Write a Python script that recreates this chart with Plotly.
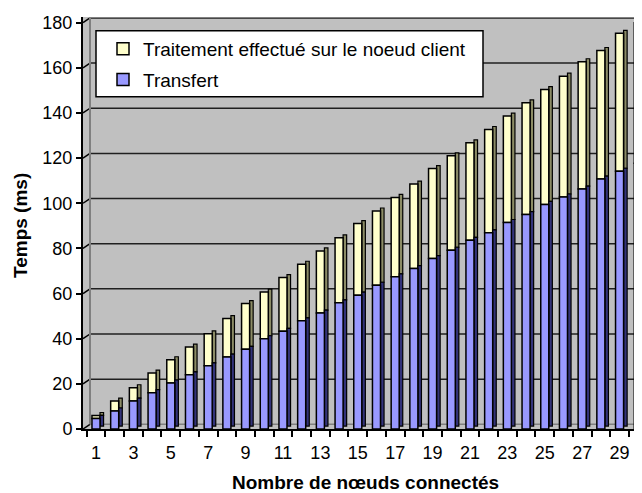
import plotly.graph_objects as go

# ---- data ----
noeuds = list(range(1, 31))
transfert = [4.7, 8.0, 12.4, 16.1, 20.4, 24.0, 28.0, 31.9, 35.3, 40.0,
             43.3, 47.9, 51.4, 55.9, 59.3, 63.7, 67.4, 71.1, 75.5, 79.2,
             83.6, 86.9, 91.5, 95.0, 99.5, 102.8, 106.3, 110.7, 114.2, 117.7]
traitement = [1.3, 4.4, 5.9, 8.7, 10.3, 12.3, 14.2, 17.0, 20.3, 20.7,
              23.8, 25.1, 27.5, 28.8, 31.7, 32.9, 35.2, 37.4, 39.9, 41.8,
              43.2, 45.8, 47.1, 49.5, 50.9, 53.5, 56.4, 57.0, 61.1, 62.3]
y_ticks = [0, 20, 40, 60, 80, 100, 120, 140, 160, 180]
x_labels = list(range(1, 31, 2))

nom_traitement = "Traitement effectué sur le noeud client"
nom_transfert = "Transfert"

# ---- style ----
FONT = "Liberation Sans, Arial, sans-serif"
YELLOW = "#FFFFCC"
YELLOW_SIDE = "#8C8C66"
BLUE = "#9999FF"
BLUE_SIDE = "#33337A"
BG = "#C0C0C0"
front_w = 0.43
side_w = 0.19
lift = 1.3          # apparent 3D rise of bar side faces (data units)
wall_depth = 2.08   # back-wall offset of gridlines (data units)
PW, PH = 559, 412   # plot area size in px
wall_x = 7 / PW     # side wall width in paper units

fig = go.Figure()

base_trait = [t + lift for t in transfert]
fig.add_trace(go.Bar(x=noeuds, y=traitement, base=base_trait, width=side_w,
                     offset=front_w / 2, marker=dict(color=YELLOW_SIDE, line=dict(color="black", width=1.2)),
                     showlegend=False, legendgroup="trait", hoverinfo="skip"))
fig.add_trace(go.Bar(x=noeuds, y=traitement, base=transfert, width=front_w,
                     offset=-front_w / 2, name=nom_traitement, legendgroup="trait",
                     marker=dict(color=YELLOW, line=dict(color="black", width=1.5))))
fig.add_trace(go.Bar(x=noeuds, y=transfert, base=[lift] * len(noeuds), width=side_w,
                     offset=front_w / 2, marker=dict(color=BLUE_SIDE, line=dict(color="black", width=1.2)),
                     showlegend=False, legendgroup="trans", hoverinfo="skip"))
fig.add_trace(go.Bar(x=noeuds, y=transfert, width=front_w,
                     offset=-front_w / 2, name=nom_transfert, legendgroup="trans",
                     marker=dict(color=BLUE, line=dict(color="black", width=1.5))))

shapes = []
# back wall gridlines with short stubs from axis to wall
for v in y_ticks:
    shapes.append(dict(type="line", xref="paper", yref="y", x0=0, x1=wall_x,
                       y0=v, y1=v + wall_depth, line=dict(color="black", width=1.5), layer="below"))
    shapes.append(dict(type="line", xref="paper", yref="y", x0=wall_x, x1=1,
                       y0=v + wall_depth, y1=v + wall_depth,
                       line=dict(color="#202020" if v else "#808080", width=1.5), layer="below"))
# side wall edge and top edge
shapes.append(dict(type="line", xref="paper", yref="y", x0=wall_x, x1=wall_x,
                   y0=wall_depth, y1=180 + wall_depth + 0.4, line=dict(color="#808080", width=2), layer="below"))
shapes.append(dict(type="line", xref="paper", yref="y", x0=wall_x, x1=1,
                   y0=180 + wall_depth + 0.4, y1=180 + wall_depth + 0.4, line=dict(color="#808080", width=2), layer="below"))
# legend box (page px: x 96-483, y 30.7-96.7; plot area x 83-642, y 17-429)
shapes.append(dict(type="rect", xref="paper", yref="paper",
                   x0=(96 - 83) / PW, x1=(483 - 83) / PW,
                   y0=(429 - 96.7) / PH, y1=(429 - 30.7) / PH,
                   fillcolor="white", line=dict(color="black", width=1.5), layer="above"))

# The page body has an 8px margin, so the figure is drawn 8px smaller and offset.
fig.update_layout(
    width=634, height=485,
    margin=dict(l=75, r=0, t=9, b=64),
    paper_bgcolor="white", plot_bgcolor=BG,
    barmode="overlay",
    font=dict(family=FONT, size=18, color="black"),
    showlegend=True,
    legend=dict(x=(103 - 83) / PW, y=(429 - 30) / PH, xanchor="left", yanchor="top",
                bgcolor="rgba(0,0,0,0)", borderwidth=0, font=dict(size=19, family=FONT),
                traceorder="grouped", tracegroupgap=3),
    shapes=shapes,
    annotations=[
        dict(text="<b>Nombre de nœuds connectés</b>", xref="paper", yref="paper",
             x=(365 - 83) / PW, y=(429 - 482) / PH, xanchor="center", yanchor="middle",
             showarrow=False, font=dict(size=19, family=FONT)),
        dict(text="<b>Temps (ms)</b>", xref="paper", yref="paper",
             x=(20 - 83) / PW, y=(429 - 226) / PH, xanchor="center", yanchor="middle",
             textangle=-90, showarrow=False, font=dict(size=19, family=FONT)),
    ],
)

fig.update_xaxes(range=[0.305, 30.2], tickmode="array", tickvals=x_labels,
                 ticktext=[str(v) for v in x_labels], ticks="outside", ticklen=6,
                 tickcolor="rgba(0,0,0,0)", showgrid=False, zeroline=False,
                 showline=True, linecolor="black", linewidth=2,
                 tickfont=dict(size=18, family=FONT),
                 minor=dict(tick0=0.5, dtick=1, ticks="outside", ticklen=6,
                            tickcolor="black", tickwidth=2, showgrid=False))
fig.update_yaxes(range=[0, 182.5], tickmode="array", tickvals=y_ticks,
                 ticks="outside", ticklen=5, tickwidth=2, tickcolor="black",
                 showgrid=False, zeroline=False, showline=True, linecolor="black",
                 linewidth=2, tickfont=dict(size=18, family=FONT))

fig.write_html("out.html")
